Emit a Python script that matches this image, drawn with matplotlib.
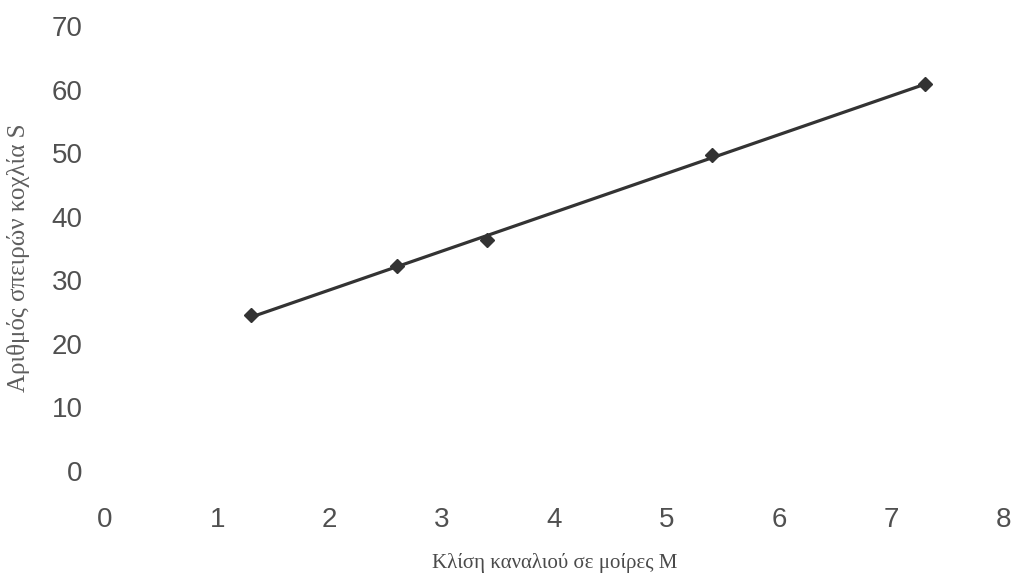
import numpy as np
import matplotlib.pyplot as plt

# Channel slope (degrees) vs. number of screw turns
slope_deg = [1.3, 2.6, 3.4, 5.4, 7.3]
turns = [24.5, 32.2, 36.3, 49.7, 60.8]

x_ticks = [0, 1, 2, 3, 4, 5, 6, 7, 8]
y_ticks = [0, 10, 20, 30, 40, 50, 60, 70]

x = np.asarray(slope_deg)
y = np.asarray(turns)

fig = plt.figure(figsize=(10.16, 5.76), dpi=100)
ax = fig.add_axes([0.1033, 0.1823, 0.8848, 0.7726])

# linear trendline over the measured range
k, b = np.polyfit(x, y, 1)
xf = np.array([x.min(), x.max()])
ax.plot(xf, k * xf + b, color='#333333', linewidth=2.3, zorder=2)
ax.plot(x, y, linestyle='none', marker='D', markersize=7,
        color='#333333', zorder=3)

ax.set_xlim(0, 8)
ax.set_ylim(0, 70)
ax.set_xticks(x_ticks)
ax.set_yticks(y_ticks)

for s in ax.spines.values():
    s.set_visible(False)

ax.tick_params(axis='both', length=0, labelsize=20, labelcolor='#505050')
ax.tick_params(axis='x', pad=26)
ax.tick_params(axis='y', pad=16)
for lbl in ax.get_xticklabels() + ax.get_yticklabels():
    lbl.set_fontfamily('Liberation Sans')

ax.set_xlabel('Κλίση καναλιού σε μοίρες Μ', fontfamily='Liberation Serif',
              fontsize=15, color='#4a4a4a', labelpad=14)
ax.set_ylabel('Αριθμός σπειρών κοχλία S', fontfamily='Liberation Serif',
              fontsize=18, color='#5e5e5e')
ax.yaxis.set_label_coords(-0.083, 0.48)

fig.savefig('out.png', dpi=100)
